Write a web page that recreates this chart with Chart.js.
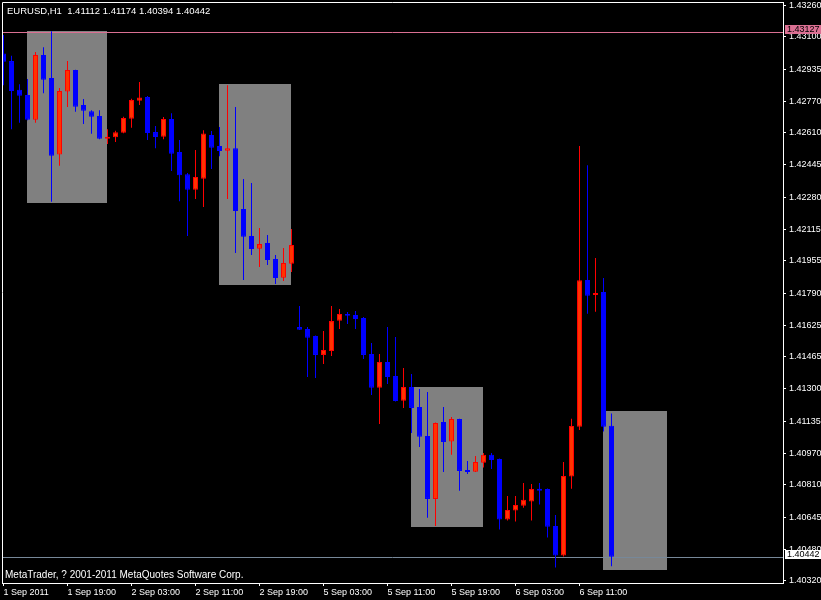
<!DOCTYPE html>
<html>
<head>
<meta charset="utf-8">
<script src="https://cdn.jsdelivr.net/npm/chart.js@4.4.0/dist/chart.umd.min.js"></script>
<style>
  html, body { margin: 0; padding: 0; background: #000; }
  canvas { display: block; background: #000; }
</style>
</head>
<body>
<canvas id="c" width="821" height="600"></canvas>
<script>
// ---------------- data ----------------
const symbol = 'EURUSD';
const period = 'H1';
const copyright = 'MetaTrader, ? 2001-2011 MetaQuotes Software Corp.';

const times = [
  '2011.09.01 11:00','2011.09.01 12:00','2011.09.01 13:00','2011.09.01 14:00','2011.09.01 15:00','2011.09.01 16:00','2011.09.01 17:00','2011.09.01 18:00','2011.09.01 19:00','2011.09.01 20:00','2011.09.01 21:00','2011.09.01 22:00','2011.09.01 23:00',
  '2011.09.02 00:00','2011.09.02 01:00','2011.09.02 02:00','2011.09.02 03:00','2011.09.02 04:00','2011.09.02 05:00','2011.09.02 06:00','2011.09.02 07:00','2011.09.02 08:00','2011.09.02 09:00','2011.09.02 10:00','2011.09.02 11:00',
  '2011.09.02 12:00','2011.09.02 13:00','2011.09.02 14:00','2011.09.02 15:00','2011.09.02 16:00','2011.09.02 17:00','2011.09.02 18:00','2011.09.02 19:00','2011.09.02 20:00','2011.09.02 21:00','2011.09.02 22:00','2011.09.02 23:00',
  '2011.09.05 00:00','2011.09.05 01:00','2011.09.05 02:00','2011.09.05 03:00','2011.09.05 04:00','2011.09.05 05:00','2011.09.05 06:00','2011.09.05 07:00','2011.09.05 08:00','2011.09.05 09:00','2011.09.05 10:00','2011.09.05 11:00',
  '2011.09.05 12:00','2011.09.05 13:00','2011.09.05 14:00','2011.09.05 15:00','2011.09.05 16:00','2011.09.05 17:00','2011.09.05 18:00','2011.09.05 19:00','2011.09.05 20:00','2011.09.05 21:00','2011.09.05 22:00','2011.09.05 23:00',
  '2011.09.06 00:00','2011.09.06 01:00','2011.09.06 02:00','2011.09.06 03:00','2011.09.06 04:00','2011.09.06 05:00','2011.09.06 06:00','2011.09.06 07:00','2011.09.06 08:00','2011.09.06 09:00','2011.09.06 10:00','2011.09.06 11:00',
  '2011.09.06 12:00','2011.09.06 13:00','2011.09.06 14:00','2011.09.06 15:00'
];

const opens = [
  1.43015,1.42976,1.42829,1.42802,1.42676,1.43007,1.42889,1.42499,1.42821,1.42930,
  1.42751,1.42720,1.42695,1.42579,1.42586,1.42609,1.42681,1.42773,1.42792,1.42613,
  1.42589,1.42680,1.42511,1.42398,1.42318,1.42374,1.42598,1.42542,1.42518,1.42531,
  1.42220,1.42082,1.42017,1.42046,1.41964,1.41869,1.41940,1.41617,1.41606,1.41571,
  1.41474,1.41494,1.41649,1.41683,1.41678,1.41663,1.41479,1.41306,1.41438,1.41366,
  1.41240,1.41310,1.41208,1.41060,1.40738,1.41131,1.41031,1.41146,1.40886,1.40877,
  1.40923,1.40963,1.40942,1.40632,1.40678,1.40703,1.40724,1.40790,1.40789,1.40600,
  1.40448,1.40852,1.41107,1.41857,1.41780,1.41795,1.41112
];
const highs = [
  1.43109,1.43003,1.42858,1.42884,1.43023,1.43047,1.43129,1.42838,1.42976,1.42932,
  1.42782,1.42725,1.42725,1.42628,1.42620,1.42691,1.42783,1.42869,1.42797,1.42644,
  1.42690,1.42709,1.42572,1.42404,1.42521,1.42623,1.42618,1.42639,1.42853,1.42741,
  1.42373,1.42353,1.42123,1.42087,1.41985,1.42020,1.42117,1.41724,1.41617,1.41573,
  1.41596,1.41724,1.41709,1.41693,1.41698,1.41668,1.41535,1.41479,1.41617,1.41565,
  1.41407,1.41376,1.41300,1.41284,1.41128,1.41208,1.41157,1.41148,1.40932,1.40957,
  1.40973,1.40973,1.40945,1.40753,1.40753,1.40819,1.40814,1.40819,1.40791,1.40656,
  1.40927,1.41148,1.42542,1.42444,1.41969,1.41867,1.41174
];
const lows = [
  1.42853,1.42628,1.42661,1.42674,1.42661,1.42812,1.42257,1.42441,1.42741,1.42717,
  1.42654,1.42604,1.42577,1.42552,1.42562,1.42607,1.42635,1.42751,1.42572,1.42531,
  1.42577,1.42414,1.42260,1.42082,1.42271,1.42230,1.42424,1.42490,1.42271,1.41995,
  1.41857,1.41985,1.41923,1.41933,1.41836,1.41852,1.41898,1.41601,1.41361,1.41356,
  1.41428,1.41468,1.41606,1.41632,1.41606,1.41453,1.41269,1.41121,1.41325,1.41236,
  1.41203,1.41075,1.41003,1.40641,1.40600,1.40876,1.40963,1.40779,1.40865,1.40875,
  1.40898,1.40891,1.40581,1.40627,1.40622,1.40693,1.40627,1.40709,1.40540,1.40387,
  1.40443,1.40790,1.41090,1.41685,1.41695,1.41082,1.40394
];
const closes = [
  1.42972,1.42823,1.42799,1.42676,1.43007,1.42880,1.42492,1.42823,1.42930,1.42742,
  1.42722,1.42691,1.42579,1.42589,1.42612,1.42685,1.42777,1.42790,1.42608,1.42588,
  1.42680,1.42502,1.42393,1.42318,1.42383,1.42606,1.42533,1.42516,1.42530,1.42209,
  1.42078,1.42015,1.42041,1.41959,1.41867,1.41944,1.42036,1.41603,1.41562,1.41474,
  1.41499,1.41647,1.41683,1.41674,1.41657,1.41474,1.41306,1.41438,1.41361,1.41238,
  1.41310,1.41203,1.41055,1.40738,1.41126,1.41029,1.41146,1.40881,1.40876,1.40927,
  1.40963,1.40937,1.40632,1.40681,1.40707,1.40733,1.40789,1.40780,1.40596,1.40448,
  1.40855,1.41111,1.41855,1.41777,1.41790,1.41107,1.40442
];

// price axis tick labels
const priceTicks = [
  1.43260,1.43100,1.42935,1.42770,1.42610,1.42445,1.42280,1.42115,1.41955,1.41790,
  1.41625,1.41465,1.41300,1.41135,1.40970,1.40810,1.40645,1.40480,1.40320
];
// time axis tick labels (one every 8 bars)
const timeTickLabels = [
  '1 Sep 2011','1 Sep 19:00','2 Sep 03:00','2 Sep 11:00','2 Sep 19:00',
  '5 Sep 03:00','5 Sep 11:00','5 Sep 19:00','6 Sep 03:00','6 Sep 11:00'
];

// rectangle objects (bar index from/to, price top/bottom)
const rectStartBar = [3, 27, 51, 75];
const rectEndBar   = [13, 36, 60, 83];
const rectTop      = [1.43132, 1.42858, 1.41310, 1.41187];
const rectBottom   = [1.42252, 1.41831, 1.40596, 1.40376];

// horizontal lines (user line, bid line)
const hLinePrices = [1.43127, 1.40442];
const hLineColors = ['#DB7093', '#778899'];
const hLineLabelBg = ['#DB7093', '#FFFFFF'];

// ---------------- chart ----------------
const FONT = 'Liberation Sans';
const bull = (i) => closes[i] >= opens[i];
const wickData = times.map((t, i) => ({x: i, y: [lows[i], highs[i]]}));
const bodyData = times.map((t, i) => ({x: i, y: [opens[i], closes[i]]}));
const wickColors = times.map((t, i) => bull(i) ? '#FF0000' : '#0000FF');
const bodyFill   = times.map((t, i) => bull(i) ? '#FF3300' : '#0000FF');
const bodyBorder = times.map((t, i) => bull(i) ? '#FF0000' : '#0000FF');

const objectsPlugin = {
  id: 'mtObjects',
  beforeDatasetsDraw(chart) {
    const {ctx, chartArea: a, scales: {x, y}} = chart;
    ctx.save();
    ctx.beginPath();
    ctx.rect(a.left, a.top, a.right - a.left, a.bottom - a.top);
    ctx.clip();
    ctx.fillStyle = '#808080';
    rectStartBar.forEach((s, k) => {
      const x1 = Math.floor(x.getPixelForValue(s));
      const x2 = Math.floor(x.getPixelForValue(rectEndBar[k]));
      const y1 = Math.round(y.getPixelForValue(rectTop[k]));
      const y2 = Math.round(y.getPixelForValue(rectBottom[k]));
      ctx.fillRect(x1, y1, x2 - x1, y2 - y1);
    });
    ctx.lineWidth = 1;
    hLinePrices.forEach((p, k) => {
      const py = Math.round(y.getPixelForValue(p)) + 0.5;
      ctx.strokeStyle = hLineColors[k];
      ctx.beginPath();
      ctx.moveTo(a.left, py);
      ctx.lineTo(a.right, py);
      ctx.stroke();
    });
    ctx.restore();
  },
  afterDraw(chart) {
    const {ctx, chartArea: a, scales: {y}} = chart;
    ctx.save();
    // frame (left + top)
    ctx.strokeStyle = '#FFFFFF';
    ctx.lineWidth = 1;
    ctx.beginPath();
    ctx.moveTo(a.left + 0.5, a.bottom);
    ctx.lineTo(a.left + 0.5, a.top + 0.5);
    ctx.lineTo(a.right, a.top + 0.5);
    ctx.stroke();
    // texts
    ctx.fillStyle = '#FFFFFF';
    ctx.textAlign = 'left';
    ctx.textBaseline = 'alphabetic';
    const n = closes.length - 1;
    const title = symbol + ',' + period + '  ' + opens[n].toFixed(5) + ' ' + highs[n].toFixed(5) + ' ' +
      lows[n].toFixed(5) + ' ' + closes[n].toFixed(5);
    ctx.font = '9.5px "' + FONT + '"';
    ctx.fillText(title, a.left + 5, a.top + 12);
    ctx.font = '10px "' + FONT + '"';
    ctx.fillText(copyright, a.left + 3, a.bottom - 5);
    // price labels of horizontal lines on the axis
    ctx.font = '9px "' + FONT + '"';
    hLinePrices.forEach((p, k) => {
      const py = Math.round(y.getPixelForValue(p));
      ctx.fillStyle = hLineLabelBg[k];
      ctx.fillRect(a.right + 2, py - 7, chart.width - a.right - 2, 9);
      ctx.fillStyle = '#000000';
      ctx.textBaseline = 'middle';
      ctx.fillText(p.toFixed(5), a.right + 4, py - 2);
    });
    ctx.restore();
  }
};

new Chart(document.getElementById('c'), {
  type: 'bar',
  data: {
    datasets: [
      {
        label: 'body', data: bodyData, order: 0, grouped: false,
        barThickness: 5, backgroundColor: bodyFill, borderColor: bodyBorder,
        borderWidth: 1, borderSkipped: false, inflateAmount: 0, clip: 0
      },
      {
        label: 'wick', data: wickData, order: 1, grouped: false,
        barThickness: 1, backgroundColor: wickColors, borderWidth: 0,
        inflateAmount: 0, clip: 0
      }
    ]
  },
  options: {
    responsive: false,
    animation: false,
    devicePixelRatio: 1,
    layout: {padding: {left: 2, top: 2, right: 0, bottom: 0}, autoPadding: false},
    plugins: {legend: {display: false}, tooltip: {enabled: false}, title: {display: false}},
    scales: {
      x: {
        type: 'linear', position: 'bottom', min: -0.1875, max: 97.4375,
        offset: false, bounds: 'data',
        grid: {display: true, drawOnChartArea: false, drawTicks: true, tickLength: 3, color: '#FFFFFF', offset: false},
        border: {display: true, color: '#FFFFFF'},
        ticks: {
          color: '#FFFFFF', align: 'start', padding: 1, autoSkip: false, maxRotation: 0, minRotation: 0,
          font: {family: FONT, size: 9},
          callback: (v, i) => timeTickLabels[i]
        },
        afterBuildTicks: (s) => { s.ticks = timeTickLabels.map((l, k) => ({value: k * 8})); },
        afterFit: (s) => { s.height = 17; s.paddingLeft = 0; s.paddingRight = 0; }
      },
      y: {
        type: 'linear', position: 'right', min: 1.40308, max: 1.43278, beginAtZero: false, bounds: 'data',
        grid: {display: true, drawOnChartArea: false, drawTicks: true, tickLength: 3, color: '#FFFFFF'},
        border: {display: true, color: '#FFFFFF'},
        ticks: {
          color: '#FFFFFF', padding: 3, autoSkip: false,
          font: {family: FONT, size: 9},
          callback: (v) => Number(v).toFixed(5)
        },
        afterBuildTicks: (s) => { s.ticks = priceTicks.map(v => ({value: v})); },
        afterFit: (s) => { s.width = 38; s.paddingTop = 0; s.paddingBottom = 0; }
      }
    }
  },
  plugins: [objectsPlugin]
});
</script>
</body>
</html>
